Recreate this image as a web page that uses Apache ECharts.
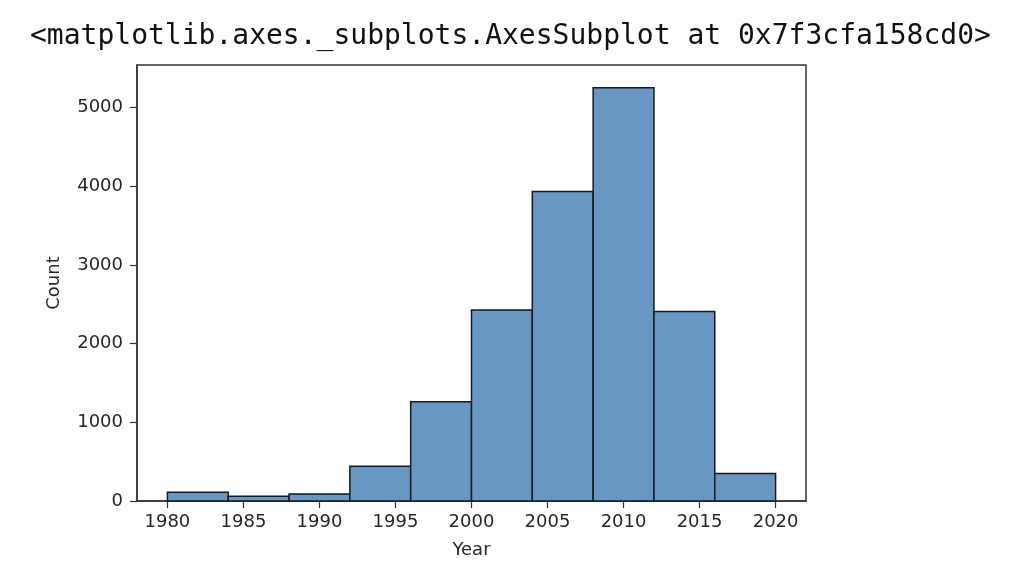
<!DOCTYPE html>
<html>
<head>
<meta charset="utf-8">
<script src="https://cdn.jsdelivr.net/npm/echarts@6/dist/echarts.min.js"></script>
<style>
  html, body { margin: 0; padding: 0; background: #fff; }
  #main { width: 1030px; height: 588px; }
</style>
</head>
<body>
<div id="main"></div>
<script>
var dom = document.getElementById("main");
var myChart = echarts.init(dom);

// histogram bins (edges) and counts per bin
var binEdges = [1980, 1984, 1988, 1992, 1996, 2000, 2004, 2008, 2012, 2016, 2020];
var counts = [110, 60, 89, 440, 1260, 2428, 3932, 5250, 2407, 348];
var xTicks = [1980, 1985, 1990, 1995, 2000, 2005, 2010, 2015, 2020];
var yTicks = [0, 1000, 2000, 3000, 4000, 5000];

var barData = counts.map(function (c, i) {
    return [binEdges[i], binEdges[i + 1], c];
});

var labelStyle = {
    color: '#262626',
    fontFamily: 'DejaVu Sans',
    fontSize: 18
};

function plain(v) {
    return String(v);
}

var option = {
    animation: false,
    backgroundColor: '#fff',
    graphic: [{
        type: 'text',
        left: 30,
        top: 23,
        style: {
            text: '<matplotlib.axes._subplots.AxesSubplot at 0x7f3cfa158cd0>',
            fontFamily: 'DejaVu Sans Mono',
            fontSize: 28,
            fill: '#111'
        }
    }],
    grid: {
        left: 137,
        right: 224,
        top: 65,
        bottom: 87,
        containLabel: false,
        outerBoundsMode: 'none',
        show: true,
        borderColor: '#333',
        borderWidth: 1.5
    },
    xAxis: {
        type: 'value',
        min: 1978,
        max: 2022,
        name: 'Year',
        nameLocation: 'middle',
        nameGap: 40,
        nameTextStyle: labelStyle,
        splitLine: { show: false },
        axisLine: { show: true, onZero: false, lineStyle: { color: '#333', width: 1.5 } },
        axisTick: { show: true, length: 7, customValues: xTicks, lineStyle: { color: '#333', width: 1.2 } },
        axisLabel: Object.assign({ margin: 12, customValues: xTicks, formatter: plain }, labelStyle)
    },
    yAxis: {
        type: 'value',
        min: 0,
        max: 5540,
        name: 'Count',
        nameLocation: 'middle',
        nameGap: 74,
        nameRotate: 90,
        nameTextStyle: labelStyle,
        splitLine: { show: false },
        axisLine: { show: true, lineStyle: { color: '#333', width: 1.5 } },
        axisTick: { show: true, length: 7, customValues: yTicks, lineStyle: { color: '#333', width: 1.2 } },
        axisLabel: Object.assign({ margin: 14, customValues: yTicks, formatter: plain }, labelStyle)
    },
    series: [{
        type: 'custom',
        renderItem: function (params, api) {
            var p0 = api.coord([api.value(0), api.value(2)]);
            var p1 = api.coord([api.value(1), 0]);
            return {
                type: 'rect',
                shape: {
                    x: p0[0],
                    y: p0[1],
                    width: p1[0] - p0[0],
                    height: p1[1] - p0[1]
                },
                style: {
                    fill: '#6897c4',
                    stroke: '#151a20',
                    lineWidth: 1.5
                }
            };
        },
        encode: { x: [0, 1], y: 2 },
        data: barData
    }]
};

myChart.setOption(option);
</script>
</body>
</html>
